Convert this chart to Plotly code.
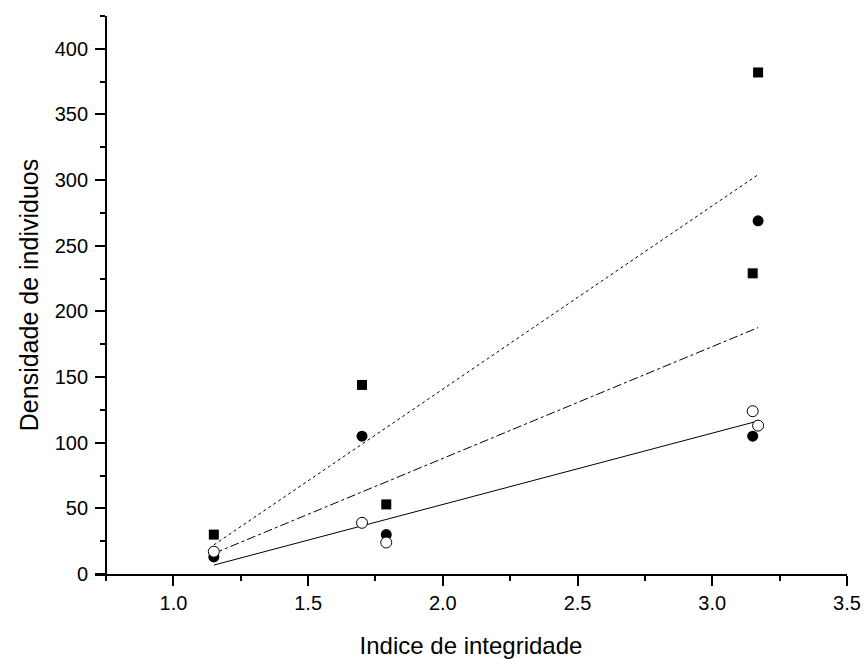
import numpy as np
import plotly.graph_objects as go

# Data
x_sq = [1.15, 1.70, 1.79, 3.15, 3.17]
y_sq = [30, 144, 53, 229, 382]
x_fc = [1.15, 1.70, 1.79, 3.15, 3.17]
y_fc = [13, 105, 30, 105, 269]
x_oc = [1.15, 1.70, 1.79, 3.15, 3.17]
y_oc = [17, 39, 24, 124, 113]

x_title = "Indice de integridade"
y_title = "Densidade de individuos"

x_min, x_max = 0.709, 3.5
y_min, y_max = 0, 425
y_axis_at = 0.75

font_family = "Liberation Sans, Arial, sans-serif"

def fit_line(xs, ys):
    k, b = np.polyfit(xs, ys, 1)
    xx = np.array([min(xs), max(xs)])
    return xx, k * xx + b

fig = go.Figure()

for xs, ys, dash in [(x_sq, y_sq, "dot"), (x_fc, y_fc, "dashdot"), (x_oc, y_oc, "solid")]:
    lx, ly = fit_line(xs, ys)
    fig.add_trace(go.Scatter(x=lx, y=ly, mode="lines",
                             line=dict(color="black", width=1, dash=dash),
                             hoverinfo="skip", showlegend=False))

fig.add_trace(go.Scatter(x=x_sq, y=y_sq, mode="markers",
                         marker=dict(symbol="square", size=10, color="black",
                                     line=dict(width=0)),
                         showlegend=False))
fig.add_trace(go.Scatter(x=x_fc, y=y_fc, mode="markers",
                         marker=dict(symbol="circle", size=11, color="black",
                                     line=dict(width=0)),
                         showlegend=False))
fig.add_trace(go.Scatter(x=x_oc, y=y_oc, mode="markers",
                         marker=dict(symbol="circle", size=11, color="white",
                                     line=dict(width=1, color="black")),
                         showlegend=False))

y_pos = (y_axis_at - x_min) / (x_max - x_min)

fig.update_layout(
    width=865, height=659,
    margin=dict(l=95, r=18, t=16, b=85),
    paper_bgcolor="white", plot_bgcolor="white",
    font=dict(family=font_family, color="black", size=20),
    xaxis=dict(
        range=[x_min, x_max], domain=[0, 1], automargin=False,
        showgrid=False, zeroline=False,
        showline=True, linecolor="black", linewidth=2,
        ticks="outside", ticklen=10, tickwidth=1.5, tickcolor="black",
        tick0=0, dtick=0.5, tickformat=".1f",
        minor=dict(ticks="outside", ticklen=5, tickwidth=1.5, tickcolor="black",
                   tick0=0, dtick=0.25, showgrid=False),
        tickfont=dict(size=20),
        title=dict(text=x_title, font=dict(size=24), standoff=26),
    ),
    yaxis=dict(
        range=[y_min, y_max], anchor="free", position=y_pos, automargin=False,
        showgrid=False, zeroline=False,
        showline=True, linecolor="black", linewidth=2,
        ticks="outside", ticklen=10, tickwidth=1.5, tickcolor="black",
        tick0=0, dtick=50, ticklabelstandoff=3,
        minor=dict(ticks="outside", ticklen=5, tickwidth=1.5, tickcolor="black",
                   tick0=0, dtick=25, showgrid=False),
        tickfont=dict(size=20),
        title=dict(text=y_title, font=dict(size=25), standoff=8),
    ),
)

fig.write_html("out.html", config={"displayModeBar": False},
               post_script="document.body.style.margin='0';document.body.style.overflow='hidden';")
